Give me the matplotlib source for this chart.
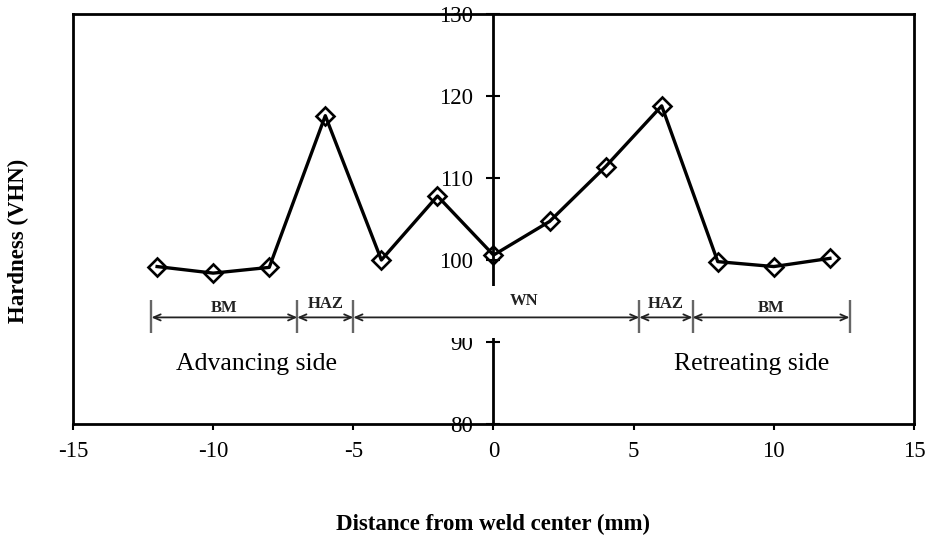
import matplotlib
matplotlib.use("Agg")
import matplotlib.pyplot as plt
from matplotlib.patches import Rectangle

# ---- data ----
distance_mm = [-12, -10, -8, -6, -4, -2, 0, 2, 4, 6, 8, 10, 12]
hardness_vhn = [99.2, 98.4, 99.1, 117.6, 100.0, 107.8, 100.6, 104.7, 111.4, 118.8, 99.8, 99.2, 100.2]

zone_edges = [-12.2, -7.0, -5.0, 5.2, 7.1, 12.7]
zone_labels = ["BM", "HAZ", "WN", "HAZ", "BM"]

x_ticks = [-15, -10, -5, 0, 5, 10, 15]
y_ticks = [80, 90, 100, 110, 120, 130]

side_labels = ["Advancing side", "Retreating side"]

# ---- styling ----
plt.rcParams["font.family"] = ["Liberation Serif", "DejaVu Serif"]

fig = plt.figure(figsize=(9.29, 5.38), dpi=100)
ax = fig.add_axes([73 / 929, 1 - 424 / 538, (914 - 73) / 929, (424 - 14) / 538])

ax.set_xlim(-15, 15)
ax.set_ylim(80, 130)

for s in ["top", "right", "bottom", "left"]:
    ax.spines[s].set_linewidth(2.0)
    ax.spines[s].set_color("black")
ax.spines["left"].set_position(("data", 0))
ax.axvline(-15, color="black", lw=2.0, clip_on=False, zorder=2.5)

ax.set_xticks(x_ticks)
ax.set_xticklabels([str(v) for v in x_ticks])
ax.set_yticks(y_ticks)
ax.set_yticklabels([str(v) for v in y_ticks])
ax.tick_params(axis="x", direction="out", length=4, width=1.5, labelsize=16.5, pad=8)
ax.tick_params(axis="y", direction="inout", length=9.5, width=1.5, labelsize=16.5, pad=10)

# white box hiding central axis behind zone annotation
ax.add_patch(Rectangle((-12.7, 90.5), 25.6, 6.3, facecolor="white", edgecolor="none",
                       zorder=3, clip_on=False))

# zone annotation
line_y = 93.0
ax.vlines(zone_edges, 91.1, 95.1, color="#666666", lw=1.7, zorder=4)
label_dx = [0, 0, 1.0, 0, 0]
label_y = [93.7, 94.1, 94.5, 94.1, 93.7]
for i, lab in enumerate(zone_labels):
    x0, x1 = zone_edges[i], zone_edges[i + 1]
    ax.annotate("", xy=(x0, line_y), xytext=(x1, line_y),
                arrowprops=dict(arrowstyle="<->,head_length=0.5,head_width=0.22",
                                color="#222222", lw=1.3, shrinkA=0, shrinkB=0),
                zorder=4)
    ax.text((x0 + x1) / 2 + label_dx[i], label_y[i], lab, ha="center", va="baseline",
            fontsize=12, fontweight="bold", color="#222222", zorder=5)

ax.text(-8.44, 86.6, side_labels[0], ha="center", va="baseline", fontsize=18.5, zorder=5)
ax.text(9.22, 86.6, side_labels[1], ha="center", va="baseline", fontsize=18.5, zorder=5)

# data
ax.plot(distance_mm, hardness_vhn, color="black", lw=2.4, marker="D", markersize=9,
        markerfacecolor="none", markeredgecolor="black", markeredgewidth=1.9, zorder=6)

fig.text(493 / 929, 1 - 524 / 538, "Distance from weld center (mm)", ha="center", va="center",
         fontsize=16.5, fontweight="bold")
fig.text(18.5 / 929, 1 - 241 / 538, "Hardness (VHN)", ha="center", va="center",
         rotation=90, fontsize=16.5, fontweight="bold")

fig.savefig("out.png", dpi=100)
